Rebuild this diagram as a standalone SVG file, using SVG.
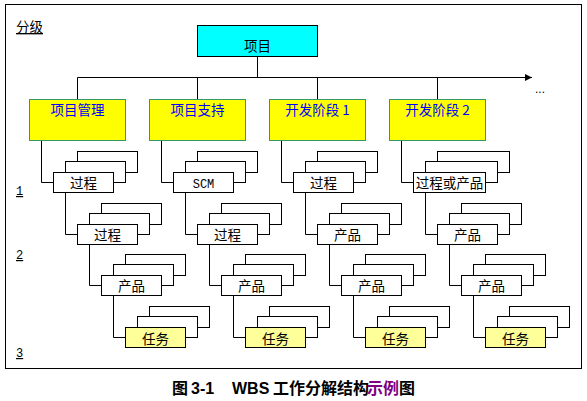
<svg xmlns="http://www.w3.org/2000/svg" width="587" height="401" viewBox="0 0 587 401">
<style>
.t{font-family:"Noto Sans CJK SC","Liberation Sans",sans-serif;font-size:13.5px;fill:#000}
.c{text-anchor:middle}
.b{fill:#fff;stroke:#000;stroke-width:1}
.task{fill:#ffff99;stroke:#000;stroke-width:1}
.l1{fill:#ffff00;stroke:#339966;stroke-width:1}
.blue{fill:#0000ff}
.ln{fill:none;stroke:#000;stroke-width:1}
.u{text-decoration:underline}
.m{font-family:"Liberation Mono",monospace;font-size:12px}
.cap{font-family:"Liberation Sans","Noto Sans CJK SC",sans-serif;font-size:16px;font-weight:bold;fill:#000}
</style>
<defs>
<marker id="arr" markerWidth="8" markerHeight="8" refX="7" refY="4" orient="auto" markerUnits="userSpaceOnUse">
<path d="M0,0.5 L7,4 L0,7.5 Z" fill="#000"/>
</marker>
</defs>
<rect x="5.5" y="4.5" width="576" height="364" fill="none" stroke="#000"/>
<text class="t u" x="16" y="32">分级</text>
<text class="t m u" x="16" y="195">1</text>
<text class="t m u" x="16" y="259">2</text>
<text class="t m u" x="16" y="357">3</text>
<text class="t" x="535" y="93" style="font-family:'Liberation Sans',sans-serif;font-size:12px">...</text>

<g id="connectors" class="ln">
<path d="M257.5,56.5 V77.5"/>
<path d="M77.5,77.5 H532" marker-end="url(#arr)"/>
<path d="M77.5,77.5 V99.5 M197.5,77.5 V99.5 M317.5,77.5 V99.5 M437.5,77.5 V99.5"/>
<path d="M41.5,140.5 V182.5 H53 M65.5,192.5 V234.5 H77 M89.5,244.5 V285.5 H101 M113.5,295.5 V337.5 H125"/>
<path d="M161.5,140.5 V182.5 H173 M185.5,192.5 V234.5 H197 M209.5,244.5 V285.5 H221 M233.5,295.5 V337.5 H245"/>
<path d="M281.5,140.5 V182.5 H293 M305.5,192.5 V234.5 H317 M329.5,244.5 V285.5 H341 M353.5,295.5 V337.5 H365"/>
<path d="M401.5,140.5 V182.5 H413 M425.5,192.5 V234.5 H437 M449.5,244.5 V285.5 H461 M473.5,295.5 V337.5 H485"/>
</g>

<g id="root"><rect x="197.5" y="25.5" width="120" height="31" fill="#00ffff" stroke="#000"/><text class="t c" x="257.5" y="51">项目</text></g>

<g id="c1"><rect class="l1" x="29.5" y="99.5" width="96" height="41"/><text class="t c blue" x="77.5" y="115">项目管理</text></g>
<g id="c2"><rect class="l1" x="149.5" y="99.5" width="96" height="41"/><text class="t c blue" x="197.5" y="115">项目支持</text></g>
<g id="c3"><rect class="l1" x="269.5" y="99.5" width="96" height="41"/><text class="t c blue" x="317.5" y="115">开发阶段 1</text></g>
<g id="c4"><rect class="l1" x="389.5" y="99.5" width="96" height="41"/><text class="t c blue" x="437.5" y="115">开发阶段 2</text></g>

<g id="c1n1" transform="translate(53,172)"><rect class="b" x="24.5" y="-20.5" width="60" height="21"/><rect class="b" x="12.5" y="-10.5" width="60" height="21"/><rect class="b" x="0.5" y="0.5" width="60" height="20"/><text class="t c" x="30.5" y="16">过程</text></g>
<g id="c1n2" transform="translate(77,224)"><rect class="b" x="24.5" y="-20.5" width="60" height="21"/><rect class="b" x="12.5" y="-10.5" width="60" height="21"/><rect class="b" x="0.5" y="0.5" width="60" height="20"/><text class="t c" x="30.5" y="16">过程</text></g>
<g id="c1n3" transform="translate(101,275)"><rect class="b" x="24.5" y="-20.5" width="60" height="21"/><rect class="b" x="12.5" y="-10.5" width="60" height="21"/><rect class="b" x="0.5" y="0.5" width="60" height="20"/><text class="t c" x="30.5" y="16">产品</text></g>
<g id="c1n4" transform="translate(125,327)"><rect class="b" x="24.5" y="-20.5" width="60" height="21"/><rect class="b" x="12.5" y="-10.5" width="60" height="21"/><rect class="task" x="0.5" y="0.5" width="60" height="20"/><text class="t c" x="30.5" y="16.5">任务</text></g>

<g id="c2n1" transform="translate(173,172)"><rect class="b" x="24.5" y="-20.5" width="60" height="21"/><rect class="b" x="12.5" y="-10.5" width="60" height="21"/><rect class="b" x="0.5" y="0.5" width="60" height="20"/><text class="t c m" x="30.5" y="15.5">SCM</text></g>
<g id="c2n2" transform="translate(197,224)"><rect class="b" x="24.5" y="-20.5" width="60" height="21"/><rect class="b" x="12.5" y="-10.5" width="60" height="21"/><rect class="b" x="0.5" y="0.5" width="60" height="20"/><text class="t c" x="30.5" y="16">过程</text></g>
<g id="c2n3" transform="translate(221,275)"><rect class="b" x="24.5" y="-20.5" width="60" height="21"/><rect class="b" x="12.5" y="-10.5" width="60" height="21"/><rect class="b" x="0.5" y="0.5" width="60" height="20"/><text class="t c" x="30.5" y="16">产品</text></g>
<g id="c2n4" transform="translate(245,327)"><rect class="b" x="24.5" y="-20.5" width="60" height="21"/><rect class="b" x="12.5" y="-10.5" width="60" height="21"/><rect class="task" x="0.5" y="0.5" width="60" height="20"/><text class="t c" x="30.5" y="16.5">任务</text></g>

<g id="c3n1" transform="translate(293,172)"><rect class="b" x="24.5" y="-20.5" width="60" height="21"/><rect class="b" x="12.5" y="-10.5" width="60" height="21"/><rect class="b" x="0.5" y="0.5" width="60" height="20"/><text class="t c" x="30.5" y="16">过程</text></g>
<g id="c3n2" transform="translate(317,224)"><rect class="b" x="24.5" y="-20.5" width="60" height="21"/><rect class="b" x="12.5" y="-10.5" width="60" height="21"/><rect class="b" x="0.5" y="0.5" width="60" height="20"/><text class="t c" x="30.5" y="16">产品</text></g>
<g id="c3n3" transform="translate(341,275)"><rect class="b" x="24.5" y="-20.5" width="60" height="21"/><rect class="b" x="12.5" y="-10.5" width="60" height="21"/><rect class="b" x="0.5" y="0.5" width="60" height="20"/><text class="t c" x="30.5" y="16">产品</text></g>
<g id="c3n4" transform="translate(365,327)"><rect class="b" x="24.5" y="-20.5" width="60" height="21"/><rect class="b" x="12.5" y="-10.5" width="60" height="21"/><rect class="task" x="0.5" y="0.5" width="60" height="20"/><text class="t c" x="30.5" y="16.5">任务</text></g>

<g id="c4n1" transform="translate(413,172)"><rect class="b" x="24.5" y="-20.5" width="72" height="21"/><rect class="b" x="12.5" y="-10.5" width="72" height="21"/><rect class="b" x="0.5" y="0.5" width="72" height="20"/><text class="t c" x="36.5" y="16">过程或产品</text></g>
<g id="c4n2" transform="translate(437,224)"><rect class="b" x="24.5" y="-20.5" width="60" height="21"/><rect class="b" x="12.5" y="-10.5" width="60" height="21"/><rect class="b" x="0.5" y="0.5" width="60" height="20"/><text class="t c" x="30.5" y="16">产品</text></g>
<g id="c4n3" transform="translate(461,275)"><rect class="b" x="24.5" y="-20.5" width="60" height="21"/><rect class="b" x="12.5" y="-10.5" width="60" height="21"/><rect class="b" x="0.5" y="0.5" width="60" height="20"/><text class="t c" x="30.5" y="16">产品</text></g>
<g id="c4n4" transform="translate(485,327)"><rect class="b" x="24.5" y="-20.5" width="60" height="21"/><rect class="b" x="12.5" y="-10.5" width="60" height="21"/><rect class="task" x="0.5" y="0.5" width="60" height="20"/><text class="t c" x="30.5" y="16.5">任务</text></g>

<text class="cap" y="394"><tspan x="172">图</tspan><tspan x="191">3-1</tspan><tspan x="232">WBS</tspan><tspan x="273">工作分解结构</tspan><tspan x="367" fill="#800080">示例</tspan><tspan x="399">图</tspan></text>
</svg>
